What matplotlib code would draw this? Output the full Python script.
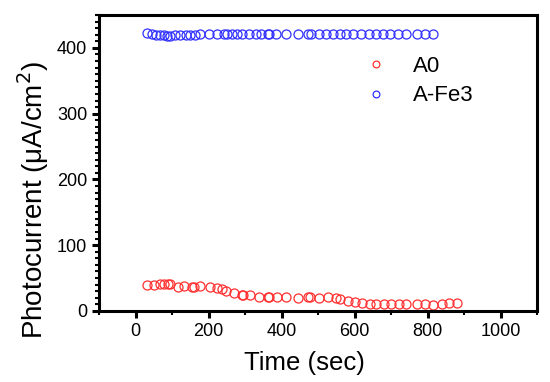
import matplotlib

matplotlib.use("Agg")
import matplotlib.pyplot as plt
from matplotlib.ticker import MultipleLocator

plt.rcParams["font.family"] = ["Liberation Sans", "DejaVu Sans"]

# A0 series (time in s, photocurrent in uA/cm2)
a0_t = [31, 50, 66, 79, 88, 95, 116, 134, 155, 161, 178, 204, 224, 236, 247,
        270, 291, 295, 313, 337, 362, 366, 389, 412, 444, 473, 478, 504, 527,
        550, 561, 582, 600, 620, 643, 660, 680, 701, 721, 742, 770, 793, 816,
        840, 860, 882]
a0_i = [40, 39, 41, 41, 41, 41, 37, 38.5, 37, 37, 37.5, 37, 35.5, 34, 30.5,
        28, 24.5, 24.5, 23.5, 21.5, 21, 21, 21, 21.5, 19.5, 21, 21, 20, 20.5,
        20, 18.5, 15.5, 14, 12, 11, 11, 11, 11, 10.5, 10, 10, 10, 9.5, 10,
        11.5, 12]

# A-Fe3 series
fe3_t = [31, 45, 56, 66, 77, 86, 95, 109, 123, 137, 150, 164, 178, 201, 224,
         242, 250, 265, 279, 293, 311, 329, 343, 362, 366, 384, 412, 444, 472,
         481, 504, 522, 540, 559, 577, 595, 618, 641, 660, 678, 696, 719, 742,
         770, 793, 816]
fe3_i = [422, 421, 420, 420, 419, 418.5, 418.5, 419, 419.5, 420, 420, 420,
         420.5, 421, 421, 421, 421, 421.5, 421.5, 421.5, 421.5, 421.5, 421.5,
         421.5, 421.5, 421.5, 421.5, 421, 421.5, 421.5, 421.5, 421.5, 421.5,
         421.5, 421.5, 421.5, 421, 421.5, 421.5, 421.5, 421.5, 421, 421.5,
         421, 421, 421]

fig = plt.figure(figsize=(5.5, 3.82), dpi=100)
ax = fig.add_axes([0.18, 0.186, 0.7964, 0.7747])

ax.plot(a0_t, a0_i, "o", mfc="none", mec="#ff3030", mew=0.9, ms=6.5,
        label="A0")
ax.plot(fe3_t, fe3_i, "o", mfc="none", mec="#3030ff", mew=0.9, ms=6.5,
        label="A-Fe3")

ax.set_xlim(-100, 1100)
ax.set_ylim(0, 450)
ax.xaxis.set_major_locator(MultipleLocator(200))
ax.xaxis.set_minor_locator(MultipleLocator(100))
ax.yaxis.set_major_locator(MultipleLocator(100))
ax.yaxis.set_minor_locator(MultipleLocator(10))
ax.set_yticks([0, 100, 200, 300, 400])

for s in ax.spines.values():
    s.set_linewidth(2.2)
ax.tick_params(which="major", direction="out", length=5, width=2.2,
               labelsize=13, pad=3.5)
ax.tick_params(which="minor", direction="out", length=3, width=1.5)
ax.tick_params(top=False, right=False, which="both")

ax.set_xlabel("Time (sec)", fontsize=18.5, labelpad=8)
ax.set_ylabel("Photocurrent (μA/cm$^2$)", fontsize=20, labelpad=4)
ax.xaxis.label.set_x(0.47)
ax.yaxis.label.set_y(0.375)

ax.legend(loc="center left", bbox_to_anchor=(0.587, 0.777), frameon=False,
          fontsize=16, handlelength=0.95, handletextpad=1.2,
          labelspacing=0.4, markerscale=0.75, borderaxespad=0)

fig.savefig("out.png", dpi=100)
